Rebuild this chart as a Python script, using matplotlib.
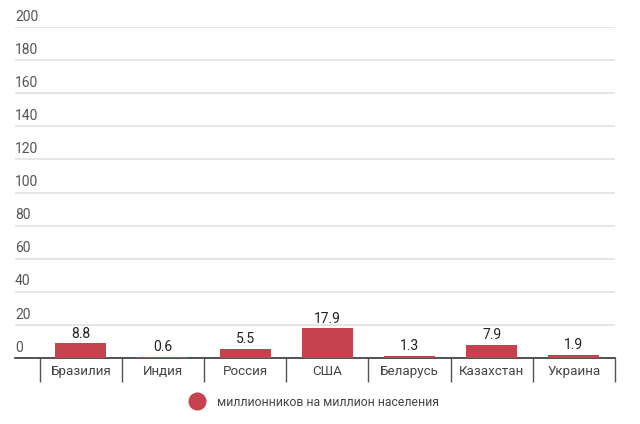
import matplotlib
matplotlib.use("Agg")
import matplotlib.pyplot as plt
from matplotlib.lines import Line2D
import numpy as np

categories = ["Бразилия", "Индия", "Россия", "США", "Беларусь", "Казахстан", "Украина"]
values = [8.8, 0.6, 5.5, 17.9, 1.3, 7.9, 1.9]
value_labels = ["8.8", "0.6", "5.5", "17.9", "1.3", "7.9", "1.9"]
y_ticks = [0, 20, 40, 60, 80, 100, 120, 140, 160, 180, 200]
legend_label = "миллионников на миллион населения"

bar_color = "#C4434F"
plt.rcParams['font.family'] = ['Roboto', 'DejaVu Sans']

fig = plt.figure(figsize=(6.4, 4.24), dpi=100)
W, H = 640, 424
ax = fig.add_axes([15 / W, (H - 358) / H, 600 / W, 331 / H])

x = np.arange(len(categories))
ax.bar(x, values, width=0.62, color=bar_color, zorder=3)
for xi, v, lab in zip(x, values, value_labels):
    ax.annotate(lab, (xi, v), xytext=(0, 2), textcoords="offset points",
                ha="center", va="bottom", fontsize=10, color="#222222")

ax.set_xlim(-0.80, 6.5)
ax.set_ylim(0, 200)

# gridlines
for t in y_ticks[1:]:
    ax.axhline(t, color="#e2e2e2", lw=1.2, zorder=1)
ax.set_yticks([])
trans = ax.get_yaxis_transform()
for t in y_ticks:
    ax.text(0.0, t + 2.0, str(t), transform=trans, ha="left", va="bottom",
            fontsize=10, color="#555555")

for s in ["top", "right", "left"]:
    ax.spines[s].set_visible(False)
ax.spines["bottom"].set_color("#333333")
ax.spines["bottom"].set_linewidth(1.2)

ax.set_xticks(x)
ax.set_xticklabels(categories, fontsize=9.6, color="#444444")
ax.tick_params(axis="x", which="major", length=0, pad=5)
ax.set_xticks(np.arange(-0.5, len(categories), 1.0), minor=True)
ax.tick_params(axis="x", which="minor", length=17, width=1.0, color="#555555", direction="out")

handle = Line2D([], [], marker="o", linestyle="none", markersize=12,
                markerfacecolor=bar_color, markeredgecolor=bar_color)
fig.legend([handle], [legend_label], loc="center", bbox_to_anchor=(312 / W, (H - 402) / H),
           frameon=False, fontsize=8.8, handletextpad=0.6, labelcolor="#444444")

fig.savefig("out.png", dpi=100)
